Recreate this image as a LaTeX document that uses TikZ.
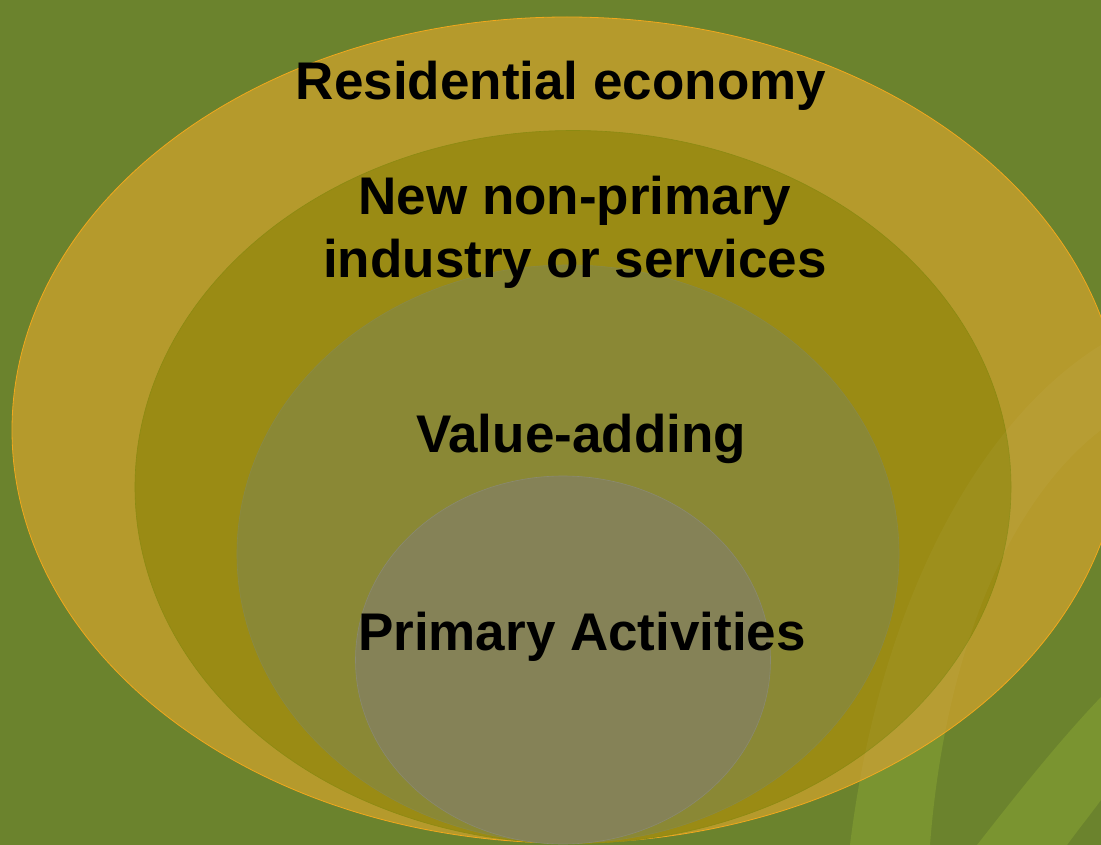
\documentclass[tikz,border=0pt]{standalone}
\usepackage{fontspec}
\setmainfont{Liberation Sans}
\usetikzlibrary{shapes.geometric}
\definecolor{bggreen}{HTML}{6B832D}
\definecolor{bglight}{HTML}{7A9430}
\definecolor{ringA}{HTML}{B59A2C}
\definecolor{ringAline}{HTML}{F2A81C}
\definecolor{ringB}{HTML}{9A8B14}
\definecolor{ringBline}{HTML}{8C8A12}
\definecolor{ringC}{HTML}{8A8835}
\definecolor{ringCline}{HTML}{8A8A45}
\definecolor{ringD}{HTML}{858257}
\definecolor{ringDline}{HTML}{8A8A70}
\tikzset{
  ring/.style={ellipse, inner sep=0pt, outer sep=0pt},
  lbl/.style={font=\fontsize{53}{62}\selectfont\bfseries, text=black, anchor=base, align=center, inner sep=0pt},
  bandA/.style={insert path={(1101,345) .. controls (980,420) and (880,600) .. (850,845) -- (930,845) .. controls (945,650) and (1010,500) .. (1101,430) -- cycle}},
  bandB/.style={insert path={(977,845) .. controls (1020,790) and (1060,740) .. (1101,697) -- (1101,800) .. controls (1090,815) and (1078,830) .. (1067,845) -- cycle}}
}
\begin{document}
\begin{tikzpicture}[x=1pt,y=-1pt]
  \fill[bggreen] (0,0) rectangle (1101,845);
  \useasboundingbox (0,0) rectangle (1101,845);
  % background decorative bands
  \fill[bglight, bandA];
  \fill[bglight, bandB];
  % rings
  \node[ring, fill=ringA, draw=ringAline, line width=0.8pt, minimum width=1110pt, minimum height=826pt] (outer) at (567,430) {};
  \node[ring, fill=ringB, draw=ringBline, line width=0.6pt, minimum width=876pt, minimum height=713pt] (second) at (573,487) {};
  \node[ring, fill=ringC, draw=ringCline, line width=0.6pt, minimum width=662pt, minimum height=578pt] (third) at (568,554) {};
  \node[ring, fill=ringD, draw=ringDline, line width=0.6pt, minimum width=415pt, minimum height=368pt] (inner) at (563,660) {};
  % faint band showing through the rings
  \begin{scope}
    \clip (outer.center) ellipse [x radius=555pt, y radius=413pt];
    \fill[white, opacity=0.035, bandA];
  \end{scope}
  % labels
  \node[lbl] (t1) at (561,100) {Residential economy};
  \node[lbl] (t2) at (575,215) {New non-primary};
  \node[lbl] (t3) at (575,277) {industry or services};
  \node[lbl] (t4) at (581,452) {Value-adding};
  \node[lbl] (t5) at (582,650) {Primary Activities};
\end{tikzpicture}
\end{document}
